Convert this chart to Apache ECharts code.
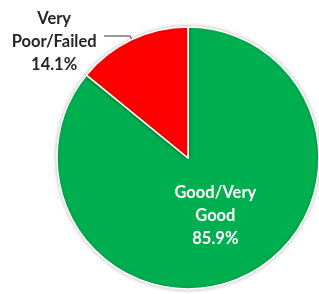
<!DOCTYPE html>
<html>
<head>
<meta charset="utf-8">
<script src="https://cdn.jsdelivr.net/npm/echarts@6/dist/echarts.min.js"></script>
<style>
  html, body { margin: 0; padding: 0; background: #fff; }
  #chart-container { width: 319px; height: 294px; }
</style>
</head>
<body>
<div id="chart-container"></div>
<script>
var myChart = echarts.init(document.getElementById('chart-container'));

const categories = ['Good/Very Good', 'Very Poor/Failed'];
const shares = [85.9, 14.1];
const sliceColors = ['#00b050', '#ff0000'];

const pieData = categories.map(function (name, i) {
    return { name: name, value: shares[i], itemStyle: { color: sliceColors[i] } };
});

// good slice: label inside, white
pieData[0].label = {
    position: 'inside',
    color: '#fff',
    fontSize: 16.5,
    fontWeight: 'bold',
    fontFamily: 'Lato',
    lineHeight: 23,
    formatter: function (p) { return 'Good/Very\nGood\n' + p.value.toFixed(1) + '%'; }
};
pieData[0].labelLine = { show: false };

// poor slice: label outside with a short leader line
pieData[1].label = {
    position: 'outside',
    overflow: 'none',
    formatter: function (p) { return '{a|Very}\n{a|Poor/Failed}\n{a|' + p.value.toFixed(1) + '%}'; },
    rich: {
        a: { width: 96, align: 'center', fontSize: 16.5, fontWeight: 'bold', color: '#262626', lineHeight: 23, fontFamily: 'Lato' }
    }
};
pieData[1].labelLine = { show: true, length: 4, length2: 26, lineStyle: { color: '#333', width: 1 } };

const option = {
    animation: false,
    textStyle: { fontFamily: 'Lato' },
    series: [{
        type: 'pie',
        center: [188, 158],
        radius: 131,
        startAngle: 90,
        clockwise: true,
        data: pieData,
        avoidLabelOverlap: false,
        itemStyle: { borderColor: '#fff', borderWidth: 1.5, shadowBlur: 4, shadowColor: 'rgba(0,0,0,0.25)' },
        labelLine: { smooth: false },
        labelLayout: function (p) {
            if (p.dataIndex === 1) return { dx: 3, dy: 6 };
            return { dx: -2, dy: -4 };
        }
    }]
};

myChart.setOption(option);

window.addEventListener('resize', function () {
    myChart.resize();
});
</script>
</body>
</html>
